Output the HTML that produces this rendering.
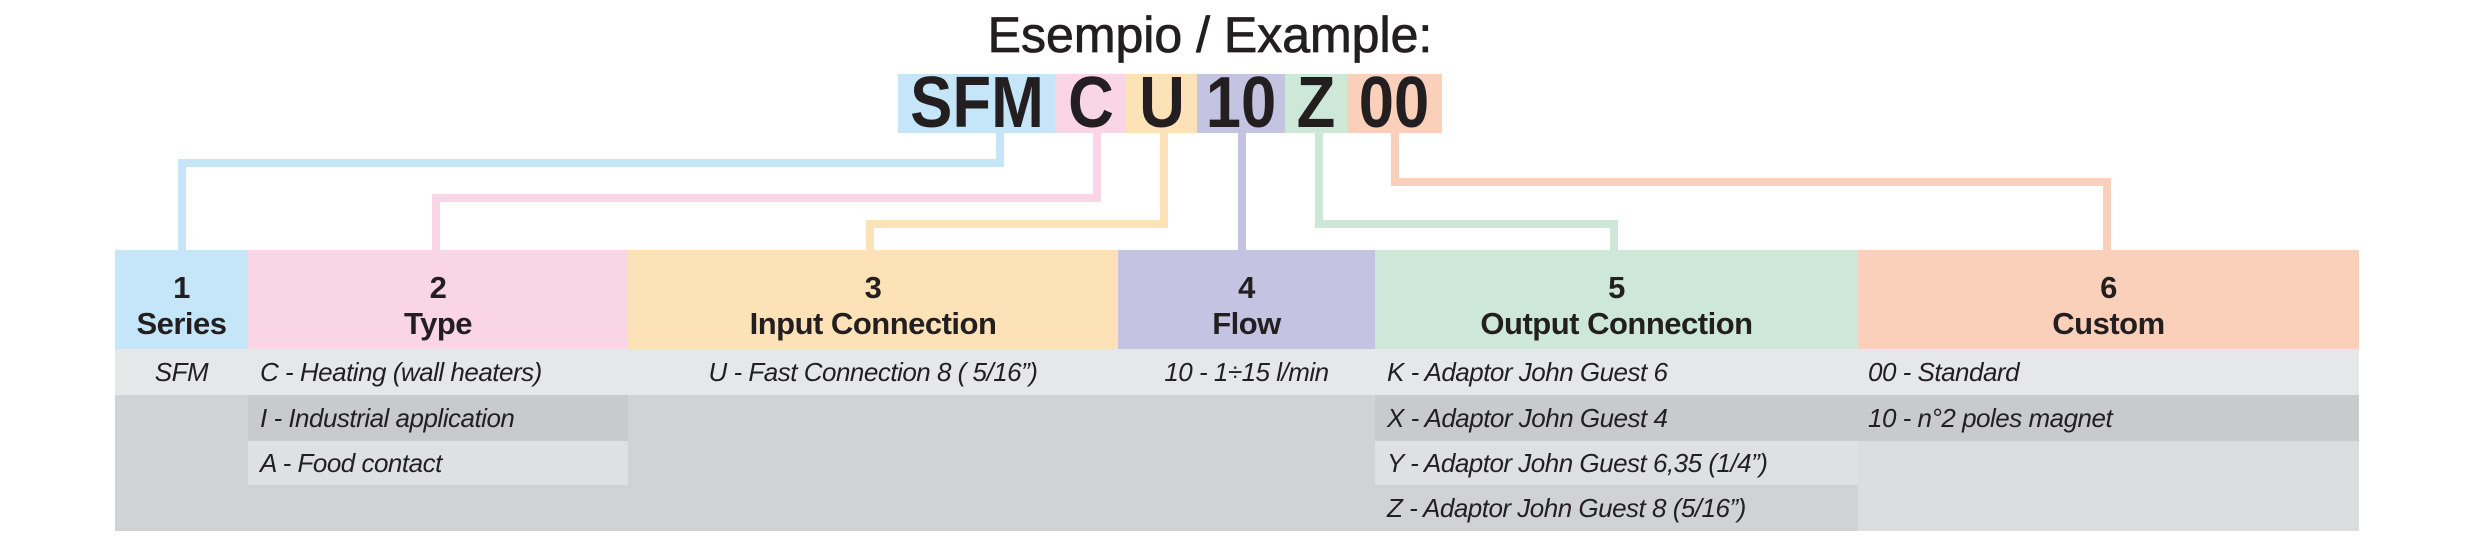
<!DOCTYPE html>
<html><head><meta charset="utf-8"><style>
body{margin:0;width:2479px;height:556px;background:#fff;position:relative;overflow:hidden;font-family:"Liberation Sans",sans-serif}
.a{position:absolute}
.t{position:absolute;top:6px;left:0;width:2420px;text-align:center;font-size:50px;color:#231f20;-webkit-text-stroke:0.8px #231f20}
.code{position:absolute;top:74px;height:59px;text-align:center;overflow:hidden}
.code span{display:inline-block;font-weight:bold;font-size:72px;line-height:59px;color:#231f20;transform:scaleX(0.88);transform-origin:center}
.h{position:absolute;top:250px;height:99px;text-align:center;font-weight:bold;font-size:31px;line-height:36px;color:#231f20;box-sizing:border-box;padding-top:20px;letter-spacing:-0.5px}
.c{position:absolute;font-style:italic;font-size:26px;color:#231f20;line-height:46px;white-space:nowrap;box-sizing:border-box;letter-spacing:-0.5px}
</style></head><body>
<div class="t">Esempio / Example:</div>
<div class="code" style="left:898px;width:157px;background:#c5e6f8"><span>SFM</span></div>
<div class="code" style="left:1055px;width:71px;background:#f9d5e5"><span>C</span></div>
<div class="code" style="left:1126px;width:71px;background:#fde2b8"><span>U</span></div>
<div class="code" style="left:1197px;width:88px;background:#c5c3e2"><span>10</span></div>
<div class="code" style="left:1285px;width:62px;background:#cde8d8"><span>Z</span></div>
<div class="code" style="left:1347px;width:95px;background:#fbd0bb"><span>00</span></div>

<svg class="a" style="left:0;top:0" width="2479" height="556">
<g fill="none" stroke-width="8" stroke-linejoin="miter">
<polyline stroke="#c5e6f8" points="1000,133 1000,163 182,163 182,250"/>
<polyline stroke="#f9d5e5" points="1097,133 1097,198 436,198 436,250"/>
<polyline stroke="#fde2b8" points="1164,133 1164,224 870,224 870,250"/>
<polyline stroke="#c5c3e2" points="1242,133 1242,250"/>
<polyline stroke="#cde8d8" points="1319,133 1319,224 1614,224 1614,250"/>
<polyline stroke="#fbd0bb" points="1395,133 1395,182 2107,182 2107,250"/>
</g></svg>

<div class="h" style="left:115px;width:133px;background:#c5e6f8">1<br>Series</div>
<div class="h" style="left:248px;width:380px;background:#f9d5e5">2<br>Type</div>
<div class="h" style="left:628px;width:490px;background:#fde2b8">3<br>Input Connection</div>
<div class="h" style="left:1118px;width:257px;background:#c5c3e2">4<br>Flow</div>
<div class="h" style="left:1375px;width:483px;background:#cde8d8">5<br>Output Connection</div>
<div class="h" style="left:1858px;width:501px;background:#fbd0bb">6<br>Custom</div>

<div class="a" style="left:115px;top:349px;width:2244px;height:46px;background:#e6e7e8"></div>
<div class="a" style="left:115px;top:395px;width:2244px;height:136px;background:#d1d2d4"></div>
<div class="a" style="left:248px;top:395px;width:380px;height:46px;background:#c9cacc"></div>
<div class="a" style="left:248px;top:441px;width:380px;height:44px;background:#dfe0e2"></div>
<div class="a" style="left:1375px;top:395px;width:483px;height:46px;background:#c9cacc"></div>
<div class="a" style="left:1375px;top:441px;width:483px;height:44px;background:#dfe0e2"></div>
<div class="a" style="left:1858px;top:395px;width:501px;height:46px;background:#c9cacc"></div>
<div class="a" style="left:1858px;top:441px;width:501px;height:90px;background:#dcdddf"></div>

<div class="c" style="left:115px;top:349px;width:133px;text-align:center">SFM</div>
<div class="c" style="left:260px;top:349px">C - Heating (wall heaters)</div>
<div class="c" style="left:260px;top:395px">I - Industrial application</div>
<div class="c" style="left:260px;top:440px">A - Food contact</div>
<div class="c" style="left:628px;top:349px;width:490px;text-align:center">U - Fast Connection 8 ( 5/16”)</div>
<div class="c" style="left:1118px;top:349px;width:257px;text-align:center">10 - 1÷15 l/min</div>
<div class="c" style="left:1387px;top:349px">K - Adaptor John Guest 6</div>
<div class="c" style="left:1387px;top:395px">X - Adaptor John Guest 4</div>
<div class="c" style="left:1387px;top:440px">Y - Adaptor John Guest 6,35 (1/4”)</div>
<div class="c" style="left:1387px;top:485px">Z - Adaptor John Guest 8 (5/16”)</div>
<div class="c" style="left:1868px;top:349px">00 - Standard</div>
<div class="c" style="left:1868px;top:395px">10 - n°2 poles magnet</div>
</body></html>
